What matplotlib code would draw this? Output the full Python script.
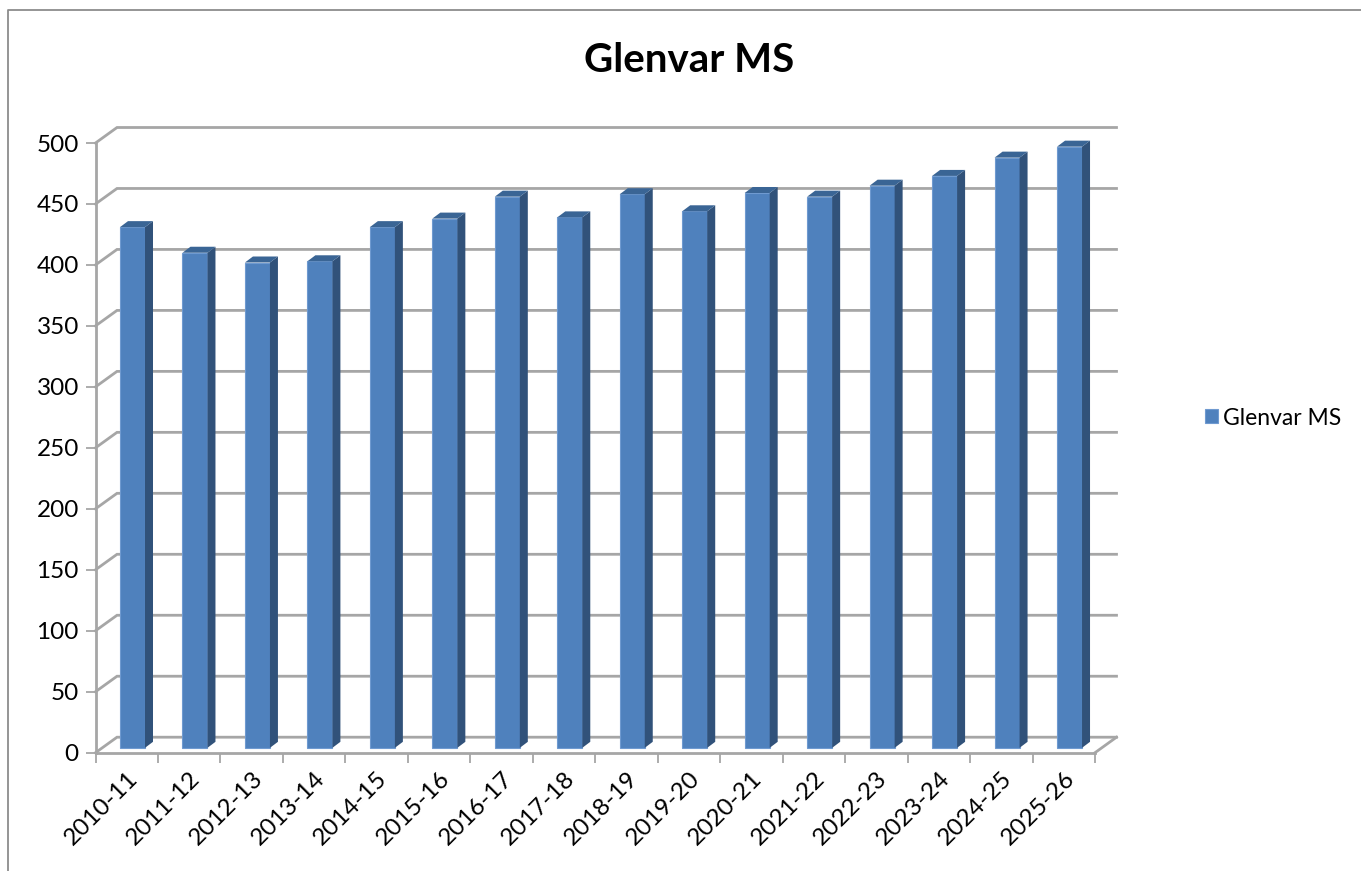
import numpy as np
import matplotlib
matplotlib.use('Agg')
import matplotlib.pyplot as plt
from matplotlib.lines import Line2D

plt.rcParams['font.family'] = ['Lato', 'DejaVu Sans']

# datos
years = ['2010-11', '2011-12', '2012-13', '2013-14', '2014-15', '2015-16', '2016-17', '2017-18',
         '2018-19', '2019-20', '2020-21', '2021-22', '2022-23', '2023-24', '2024-25', '2025-26']
students = [427, 406, 398, 399, 427, 434, 452, 435, 454, 440, 455, 452, 461, 469, 484, 493]
y_ticks = [0, 50, 100, 150, 200, 250, 300, 350, 400, 450, 500]

W, H = 1361, 871
grid_col = '#a6a6a6'
front_col = '#4f81bd'
side_col = '#31527a'
top_col = '#3a6595'

fig = plt.figure(figsize=(W / 100, H / 100), dpi=100)
ax = fig.add_axes([95.5 / W, (H - 752.7) / H, 999.5 / W, 609.7 / H])
ax.set_xlim(0, 16)
ax.set_ylim(0, 500)

# px a unidades de datos
ux = 16 / 999.5
uy = 500 / 609.7
wall_dx, wall_dy = 21.5 * ux, 15.5 * uy

# paredes (lineas del fondo)
for t in y_ticks:
    ax.plot([0, wall_dx, 16 + wall_dx], [t, t + wall_dy, t + wall_dy], color=grid_col, lw=2,
            clip_on=False, zorder=1, solid_joinstyle='miter')
ax.plot([16, 16 + wall_dx], [0, wall_dy], color=grid_col, lw=2, clip_on=False, zorder=1)

# barras 3D
bar_left, bar_w = 24.5 * ux, 25 * ux
base = 4.0
side_dx, side_dy = 8 * ux, 6 * uy
xs = np.arange(len(years))
bars = ax.bar(xs + bar_left, students, width=bar_w, bottom=base, align='edge', color=front_col,
              edgecolor='#6f9ad0', linewidth=0.8, zorder=3, clip_on=False, label='Glenvar MS')
for x, v in zip(xs + bar_left, students):
    top = base + v
    ax.fill([x + bar_w, x + bar_w + side_dx, x + bar_w + side_dx, x + bar_w],
            [base, base + side_dy, top + side_dy, top], color=side_col, lw=0, zorder=3, clip_on=False)
    ax.fill([x, x + side_dx, x + bar_w + side_dx, x + bar_w],
            [top, top + side_dy, top + side_dy, top], color=top_col, lw=0, zorder=3, clip_on=False)

for s in ['top', 'right']:
    ax.spines[s].set_visible(False)
for s in ['left', 'bottom']:
    ax.spines[s].set_color(grid_col)
    ax.spines[s].set_linewidth(2)

ax.set_yticks(y_ticks)
ax.set_xticks(np.arange(17))
ax.set_xticklabels([])
ax.set_xticks(xs + 0.5, minor=True)
ax.set_xticklabels(years, minor=True, rotation=45, ha='right', va='top', rotation_mode='anchor')
ax.tick_params(axis='x', which='major', length=7, width=1.3, color=grid_col)
ax.tick_params(axis='x', which='minor', length=0, pad=11, labelsize=17.5)
ax.tick_params(axis='y', length=7, width=1.3, color=grid_col, pad=5, labelsize=17.5)

fig.text(689 / W, 1 - 60 / H, 'Glenvar MS', fontsize=29, fontweight='bold', ha='center', va='center')

fig.legend(handles=[bars], labels=['Glenvar MS'], loc='center left', bbox_to_anchor=(1184.5 / W, 1 - 418 / H),
           frameon=False, fontsize=16.5, handlelength=0.57, handleheight=0.57, handletextpad=0.22)

# borde del area del grafico
fig.add_artist(Line2D([8 / W, 8 / W, 1], [0, 1 - 10 / H, 1 - 10 / H], color='#8c8c8c', lw=1.3))

fig.savefig('out.png', dpi=100)
